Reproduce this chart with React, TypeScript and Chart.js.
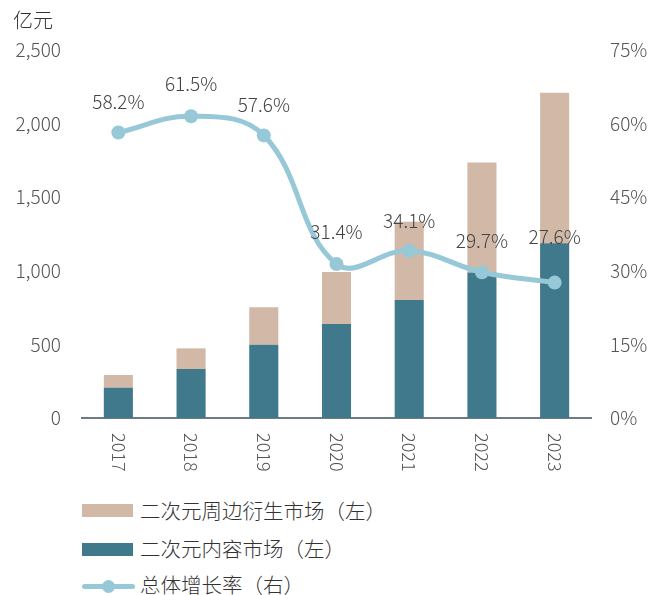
import React, { useEffect, useRef } from "react";
import { Chart, registerables } from "chart.js";

Chart.register(...registerables);

const years = ["2017", "2018", "2019", "2020", "2021", "2022", "2023"];
const contentMarket = [206, 333, 498, 639, 802, 988, 1187];
const derivativeMarket = [86, 140, 254, 353, 532, 747, 1023];
const growthRate = [58.2, 61.5, 57.6, 31.4, 34.1, 29.7, 27.6];
const labelOffsets = [31, 32, 31, 32, 30, 31, 46];
const leftTicks = [0, 500, 1000, 1500, 2000, 2500];
const rightTicks = [0, 15, 30, 45, 60, 75];

const legendItems = [
  { label: "二次元周边衍生市场（左）", kind: "bar", color: "#D2B8A6" },
  { label: "二次元内容市场（左）", kind: "bar", color: "#40788C" },
  { label: "总体增长率（右）", kind: "line", color: "#96C8D8" },
];

const FONT = '"Noto Sans CJK SC", "Noto Sans", sans-serif';
const TAN = "#D2B8A6";
const TEAL = "#40788C";
const LINE = "#96C8D8";

export default function App() {
  const canvasRef = useRef<HTMLCanvasElement | null>(null);

  useEffect(() => {
    const canvas = canvasRef.current;
    if (!canvas) return;

    const overlay = {
      id: "overlay",
      afterDatasetsDraw(chart: any) {
        const ctx = chart.ctx;
        const meta = chart.getDatasetMeta(0);
        ctx.save();
        ctx.font = `300 19px ${FONT}`;
        ctx.fillStyle = "#444";
        ctx.textAlign = "center";
        ctx.textBaseline = "middle";
        meta.data.forEach((pt: any, i: number) => {
          ctx.fillText(growthRate[i].toFixed(1) + "%", pt.x, pt.y - labelOffsets[i]);
        });
        ctx.restore();
      },
      afterDraw(chart: any) {
        const ctx = chart.ctx;
        const xs = chart.scales.x;
        ctx.save();
        ctx.font = `300 18px ${FONT}`;
        ctx.fillStyle = "#555";
        ctx.textAlign = "left";
        ctx.textBaseline = "middle";
        years.forEach((y, i) => {
          const px = xs.getPixelForTick(i);
          ctx.save();
          ctx.translate(px, 433);
          ctx.rotate(Math.PI / 2);
          ctx.fillText(y, 0, 0);
          ctx.restore();
        });
        ctx.font = `300 20px ${FONT}`;
        ctx.fillStyle = "#333";
        ctx.textBaseline = "middle";
        ctx.fillText("亿元", 13, 20);
        ctx.restore();
      },
    };

    const chart = new Chart(canvas, {
      type: "bar",
      data: {
        labels: years,
        datasets: [
          {
            type: "line",
            label: "总体增长率（右）",
            data: growthRate,
            yAxisID: "yR",
            borderColor: LINE,
            backgroundColor: LINE,
            borderWidth: 5,
            pointRadius: 7,
            pointHoverRadius: 7,
            pointBackgroundColor: LINE,
            pointBorderWidth: 0,
            tension: 0.4,
            order: 0,
          } as any,
          {
            type: "bar",
            label: "二次元内容市场（左）",
            data: contentMarket,
            yAxisID: "y",
            backgroundColor: TEAL,
            stack: "s",
            barPercentage: 0.4,
            categoryPercentage: 1,
            order: 1,
          },
          {
            type: "bar",
            label: "二次元周边衍生市场（左）",
            data: derivativeMarket,
            yAxisID: "y",
            backgroundColor: TAN,
            stack: "s",
            barPercentage: 0.4,
            categoryPercentage: 1,
            order: 2,
          },
        ],
      },
      options: {
        responsive: false,
        animation: false,
        layout: { padding: { top: 50, left: 0, right: 0, bottom: 0 } },
        plugins: {
          legend: { display: false },
          tooltip: { enabled: false },
        },
        scales: {
          x: {
            stacked: true,
            grid: { display: false, drawTicks: false },
            border: { display: true, color: "#6E7B80", width: 2 },
            ticks: { color: "transparent", minRotation: 90, maxRotation: 90 },
            afterFit(scale: any) {
              scale.height = 62;
            },
          },
          y: {
            position: "left",
            stacked: true,
            min: 0,
            max: 2500,
            afterBuildTicks(scale: any) {
              scale.ticks = leftTicks.map((v) => ({ value: v }));
            },
            grid: { display: false, drawTicks: false },
            border: { display: false },
            ticks: {
              padding: 21,
              color: "#555",
              font: { family: FONT, size: 19, weight: 300 as any },
              callback: (v: any) => Number(v).toLocaleString("en-US"),
            },
            afterFit(scale: any) {
              scale.width = 82;
            },
          },
          yR: {
            position: "right",
            min: 0,
            max: 75,
            afterBuildTicks(scale: any) {
              scale.ticks = rightTicks.map((v) => ({ value: v }));
            },
            grid: { display: false, drawTicks: false },
            border: { display: false },
            ticks: {
              padding: 19,
              color: "#555",
              font: { family: FONT, size: 19, weight: 300 as any },
              callback: (v: any) => v + "%",
            },
            afterFit(scale: any) {
              scale.width = 59;
            },
          },
        },
      },
      plugins: [overlay],
    });

    return () => chart.destroy();
  }, []);

  const textCenters = [510, 548, 584];
  const markerCenters = [510.5, 549, 586];

  return (
    <div style={{ position: "fixed", left: 0, top: 0, width: 650, height: 595, background: "#fff", overflow: "hidden" }}>
      <canvas ref={canvasRef} width={650} height={480} style={{ position: "absolute", left: 0, top: 0, width: 650, height: 480 }} />
      {legendItems.map((it, i) => (
        <React.Fragment key={i}>
          {it.kind === "bar" ? (
            <div style={{ position: "absolute", left: 82, top: markerCenters[i] - 6.5, width: 51, height: 13, background: it.color }} />
          ) : (
            <>
              <div style={{ position: "absolute", left: 82, top: markerCenters[i] - 2.5, width: 53, height: 5, borderRadius: 3, background: it.color }} />
              <div style={{ position: "absolute", left: 102, top: markerCenters[i] - 6.5, width: 13, height: 13, borderRadius: 7, background: it.color }} />
            </>
          )}
          <div
            style={{
              position: "absolute",
              left: 140,
              top: textCenters[i] - 15,
              height: 30,
              lineHeight: "30px",
              fontFamily: FONT,
              fontWeight: 300,
              fontSize: 20.5,
              color: "#333",
              whiteSpace: "nowrap",
            }}
          >
            {it.label}
          </div>
        </React.Fragment>
      ))}
    </div>
  );
}
